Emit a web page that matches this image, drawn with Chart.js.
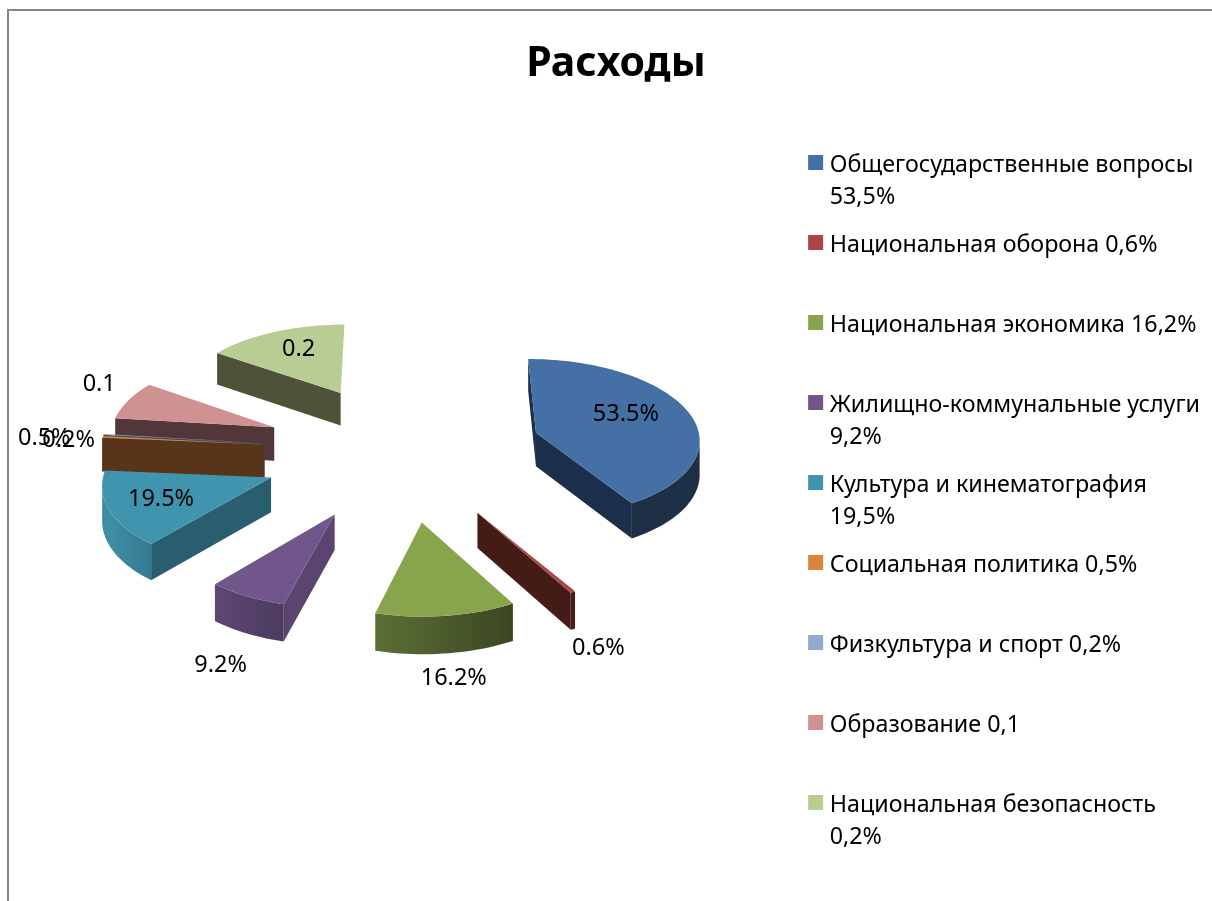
<!DOCTYPE html>
<html lang="ru">
<head>
<meta charset="utf-8">
<title>Расходы</title>
<script src="https://cdn.jsdelivr.net/npm/chart.js@4"></script>
<style>
    html, body { margin: 0; padding: 0; background: #fff; overflow: hidden; }
    #frame { position: absolute; left: 7px; top: 9px; width: 1205px; height: 892px; border-top: 2px solid #868686; border-left: 2px solid #868686; box-sizing: border-box; }
    #rashody { position: absolute; left: 0; top: 0; }
</style>
</head>
<body>
<div id="frame"></div>
<canvas id="rashody" width="1212" height="901"></canvas>
<script>
const categories = ['Общегосударственные вопросы', 'Национальная оборона', 'Национальная экономика', 'Жилищно-коммунальные услуги', 'Культура и кинематография', 'Социальная политика', 'Физкультура и спорт', 'Образование', 'Национальная безопасность'];
const shares = [0.535, 0.006, 0.162, 0.092, 0.195, 0.005, 0.002, 0.1, 0.2];
const sliceLabels = ['53.5%', '0.6%', '16.2%', '9.2%', '19.5%', '0.5%', '0.2%', '0.1', '0.2'];
const legendLines = [
    ['Общегосударственные вопросы', '53,5%'],
    ['Национальная оборона 0,6%', ''],
    ['Национальная экономика 16,2%', ''],
    ['Жилищно-коммунальные услуги', '9,2%'],
    ['Культура и кинематография', '19,5%'],
    ['Социальная политика 0,5%', ''],
    ['Физкультура и спорт 0,2%', ''],
    ['Образование 0,1', ''],
    ['Национальная безопасность', '0,2%']
];

const topColors = ['#4470a5', '#ad4643', '#88a44d', '#71568c', '#4094ae', '#d9853c', '#93a9cf', '#d09290', '#b9cc94'];
const sideColors = ['#1b2e4b', '#451b17', '#3c4a20', '#5b4470', '#295e6e', '#57341a', '#3f4a60', '#513739', '#4c5339'];
// where each value label sits, measured from the slice's point
const labelShift = [[90, -18], [121, 136], [32, 156], [-114, 151], [-110, 22], [-220, -6], [-196, -3], [-175, -43], [-42, -44]];

const FONT = '"Noto Sans", sans-serif';
const view = { cx: 403, cy: 451, tilt: 0.49, depth: 34, persX: 0.00035, persY: 0.00037 };

function project(x, y, z) {
    const sx = 1 + view.persX * y;
    const sy = 1 + view.persY * y;
    return [view.cx + x * sx, view.cy + view.tilt * y * sy + z * sx];
}

function shade(hex, f) {
    const n = parseInt(hex.slice(1), 16);
    const c = [n >> 16, (n >> 8) & 255, n & 255].map(v => Math.round(v * f));
    return `rgb(${c[0]},${c[1]},${c[2]})`;
}

// how dark the rim is, going round from the right front to the left
function rimFactor(deg) {
    return Math.min(0.95, Math.max(0.42, 0.42 + (deg - 150) * 0.0058));
}

// straight wall under the edge a-b, only if it faces the viewer
function wall(ctx, a, b, color) {
    const a1 = project(a[0], a[1], 0), b1 = project(b[0], b[1], 0);
    if (b1[0] - a1[0] > -6) return;
    const a2 = project(a[0], a[1], view.depth), b2 = project(b[0], b[1], view.depth);
    ctx.fillStyle = color;
    ctx.beginPath();
    ctx.moveTo(a1[0], a1[1]);
    ctx.lineTo(b1[0], b1[1]);
    ctx.lineTo(b2[0], b2[1]);
    ctx.lineTo(a2[0], a2[1]);
    ctx.closePath();
    ctx.fill();
}

// curved wall as one path with a left to right gradient
function rimWall(ctx, rim, base) {
    const front = rim.filter((p, k) => {
        const q = project(p[0], p[1], 0);
        const prev = k > 0 ? project(rim[k - 1][0], rim[k - 1][1], 0) : null;
        const next = k < rim.length - 1 ? project(rim[k + 1][0], rim[k + 1][1], 0) : null;
        return (next && next[0] < q[0]) || (prev && q[0] < prev[0]);
    });
    if (front.length < 2) return;
    const first = project(front[0][0], front[0][1], 0);
    const last = project(front[front.length - 1][0], front[front.length - 1][1], 0);
    const grad = ctx.createLinearGradient(first[0], 0, last[0], 0);
    front.forEach(p => {
        const q = project(p[0], p[1], 0);
        const deg = (p[2] + Math.PI / 2) * 180 / Math.PI;
        grad.addColorStop(Math.min(1, Math.max(0, (q[0] - first[0]) / (last[0] - first[0]))), shade(base, rimFactor(deg)));
    });
    ctx.fillStyle = grad;
    ctx.beginPath();
    front.forEach((p, k) => {
        const q = project(p[0], p[1], 0);
        if (k === 0) ctx.moveTo(q[0], q[1]);
        else ctx.lineTo(q[0], q[1]);
    });
    front.slice().reverse().forEach(p => {
        const q = project(p[0], p[1], view.depth);
        ctx.lineTo(q[0], q[1]);
    });
    ctx.closePath();
    ctx.fill();
}

const pie3d = {
    id: 'pie3d',
    beforeDatasetsDraw(chart) {
        const ctx = chart.ctx;
        const arcs = chart.getDatasetMeta(0).data.map((arc, i) => {
            const start = arc.startAngle, end = arc.endAngle;
            const mid = (start + end) / 2;
            const e = arc.options.offset;
            return { i, start, end, mid, R: arc.outerRadius, ox: Math.cos(mid) * e, oy: Math.sin(mid) * e };
        });
        // back slices first
        const order = arcs.slice().sort((a, b) => a.oy - b.oy);
        order.forEach(s => {
            const steps = Math.max(2, Math.ceil((s.end - s.start) / (Math.PI / 90)));
            const rim = [];
            for (let k = 0; k <= steps; k++) {
                const a = s.start + (s.end - s.start) * k / steps;
                rim.push([s.ox + Math.cos(a) * s.R, s.oy + Math.sin(a) * s.R, a]);
            }
            const tip = [s.ox, s.oy];
            wall(ctx, tip, rim[0], sideColors[s.i]);
            wall(ctx, rim[steps], tip, sideColors[s.i]);
            rimWall(ctx, rim, topColors[s.i]);
            ctx.fillStyle = topColors[s.i];
            ctx.beginPath();
            const t = project(tip[0], tip[1], 0);
            ctx.moveTo(t[0], t[1]);
            rim.forEach(p => {
                const q = project(p[0], p[1], 0);
                ctx.lineTo(q[0], q[1]);
            });
            ctx.closePath();
            ctx.fill();
        });
        ctx.save();
        ctx.fillStyle = '#000';
        ctx.font = '23.5px ' + FONT;
        ctx.textAlign = 'center';
        ctx.textBaseline = 'middle';
        arcs.forEach(s => {
            const t = project(s.ox, s.oy, 0);
            ctx.fillText(sliceLabels[s.i], t[0] + labelShift[s.i][0], t[1] + labelShift[s.i][1]);
        });
        ctx.restore();
        return false;
    },
    // legend squares sit closer to their text than the library puts them
    afterDraw(chart) {
        const ctx = chart.ctx;
        chart.legend.legendHitBoxes.forEach((box, i) => {
            ctx.fillStyle = topColors[i];
            ctx.fillRect(box.left + 5, box.top + 1, 15, 15);
        });
    }
};

new Chart(document.getElementById('rashody').getContext('2d'), {
    type: 'pie',
    data: {
        labels: categories,
        datasets: [{
            data: shares,
            backgroundColor: topColors,
            borderWidth: 0,
            offset: 140
        }]
    },
    options: {
        responsive: false,
        animation: false,
        radius: 165,
        layout: { padding: { left: 22, right: 2, top: 0, bottom: 0 } },
        plugins: {
            title: {
                display: true,
                text: 'Расходы',
                color: '#000',
                font: { family: FONT, size: 41, weight: 'bold', lineHeight: 1.2 },
                padding: { top: 40, bottom: 48.8 }
            },
            tooltip: { enabled: false },
            legend: {
                position: 'right',
                align: 'start',
                fullSize: false,
                labels: {
                    color: '#000',
                    font: { family: FONT, size: 23.25, lineHeight: 32 / 23.25 },
                    boxWidth: 15,
                    boxHeight: 15,
                    padding: 16,
                    generateLabels: () => legendLines.map((text, i) => ({
                        text,
                        fillStyle: 'transparent',
                        strokeStyle: 'transparent',
                        lineWidth: 0,
                        index: i
                    }))
                }
            }
        }
    },
    plugins: [pie3d]
});
</script>
</body>
</html>
